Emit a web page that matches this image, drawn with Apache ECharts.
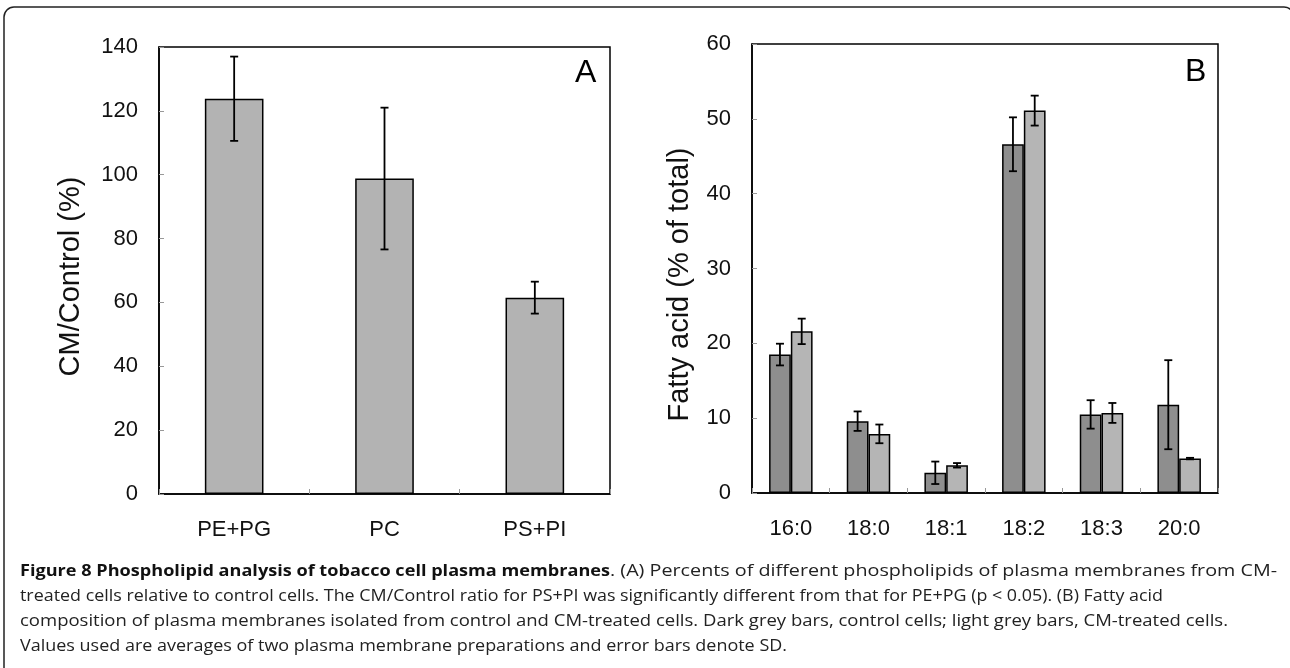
<!DOCTYPE html>
<html>
<head>
<meta charset="utf-8">
<script src="https://cdn.jsdelivr.net/npm/echarts@6/dist/echarts.min.js"></script>
<style>
html,body{margin:0;padding:0;background:#fff;}
#chart{width:1290px;height:668px;}
</style>
</head>
<body>
<div id="chart"></div>
<script>
// ---- Data ----
const categoriesA = ['PE+PG', 'PC', 'PS+PI'];
const valuesA = [123.8, 98.8, 61.5];
const sdA = [13.2, 22.2, 5.0];

const categoriesB = ['16:0', '18:0', '18:1', '18:2', '18:3', '20:0'];
const controlB = [18.5, 9.6, 2.7, 46.6, 10.5, 11.8];
const cmB = [21.6, 7.9, 3.7, 51.1, 10.7, 4.6];
const sdControlB = [1.45, 1.3, 1.5, 3.6, 1.9, 5.95];
const sdCmB = [1.7, 1.25, 0.3, 2.0, 1.33, 0.1];

const yTicksA = [0, 20, 40, 60, 80, 100, 120, 140];
const yTicksB = [0, 10, 20, 30, 40, 50, 60];

const captionBold = 'Figure 8 Phospholipid analysis of tobacco cell plasma membranes';
const captionLines = [
  '. (A) Percents of different phospholipids of plasma membranes from CM-',
  'treated cells relative to control cells. The CM/Control ratio for PS+PI was significantly different from that for PE+PG (p < 0.05). (B) Fatty acid',
  'composition of plasma membranes isolated from control and CM-treated cells. Dark grey bars, control cells; light grey bars, CM-treated cells.',
  'Values used are averages of two plasma membrane preparations and error bars denote SD.'
];

// ---- Styles ----
const sans = "'Liberation Sans',Arial,Helvetica,sans-serif";
const capFontSize = 16.3;
const capRegFont = capFontSize + "px 'Open Sans',sans-serif";
const capBoldFont = "bold " + capFontSize + "px 'Open Sans',sans-serif";

const measureCtx = document.createElement('canvas').getContext('2d');
function textWidth(txt, font) { measureCtx.font = font; return measureCtx.measureText(txt).width; }

function errData(values, sd, offset) {
  return values.map((v, i) => [i, v - sd[i], v + sd[i], offset]);
}

function errRender(params, api) {
  const i = api.value(0);
  const lo = api.coord([i, api.value(1)]);
  const hi = api.coord([i, api.value(2)]);
  const band = api.size([1, 0])[0];
  const x = lo[0] + band * api.value(3);
  const cap = 4;
  const style = { stroke: '#000', lineWidth: 1.8 };
  return {
    type: 'group',
    children: [
      { type: 'line', shape: { x1: x, y1: lo[1], x2: x, y2: hi[1] }, style },
      { type: 'line', shape: { x1: x - cap, y1: lo[1], x2: x + cap, y2: lo[1] }, style },
      { type: 'line', shape: { x1: x - cap, y1: hi[1], x2: x + cap, y2: hi[1] }, style }
    ]
  };
}

function yAxisCfg(gridIndex, max, interval, name, nameGap, shift) {
  return {
    type: 'value', gridIndex, min: 0, max, interval,
    name, nameLocation: 'middle', nameGap, nameRotate: 90,
    nameTextStyle: { fontFamily: sans, fontSize: 29, color: '#111', padding: [0, shift * 2, 0, 0] },
    axisLine: { show: true, lineStyle: { color: '#000', width: 1.5 } },
    axisTick: { show: true, inside: true, length: 5, lineStyle: { color: '#999', width: 1 } },
    axisLabel: { fontFamily: sans, fontSize: 22, color: '#111', margin: 21 },
    splitLine: { show: false }
  };
}

function xAxisCfg(gridIndex, data) {
  return {
    type: 'category', gridIndex, data,
    axisLine: { show: true, lineStyle: { color: '#000', width: 1.5 } },
    axisTick: { show: true, inside: true, length: 5, lineStyle: { color: '#999', width: 1 } },
    axisLabel: { fontFamily: sans, fontSize: 22, color: '#111', margin: 25 },
    splitLine: { show: false }
  };
}

const chart = echarts.init(document.getElementById('chart'), null, { renderer: 'canvas' });

const graphics = [
  { type: 'rect', shape: { x: 4, y: 7, width: 1290, height: 700, r: 10 },
    style: { fill: 'none', stroke: '#222', lineWidth: 1.5 }, z: 0 },
  { type: 'text', left: 575, top: 57, style: { text: 'A', font: "32px 'Liberation Sans',Arial,sans-serif", fill: '#000' } },
  { type: 'text', left: 1185, top: 56, style: { text: 'B', font: "32px 'Liberation Sans',Arial,sans-serif", fill: '#000' } }
];

// caption: each segment stretched to the span it occupies in the figure
const capTop = 563;
const capStep = 25;
const capX0 = 20;
const boldEnd = 610;
const lineEnds = [1277, 1163, 1228, 787];
function capText(txt, font, x, y, x1, fill) {
  const w = textWidth(txt, font);
  graphics.push({
    type: 'text', x: x, y: y, scaleX: (x1 - x) / w, originX: 0,
    style: { text: txt, font: font, fill: fill, textVerticalAlign: 'top' }
  });
}
capText(captionBold, capBoldFont, capX0, capTop, boldEnd, '#111');
captionLines.forEach((txt, k) => {
  const x = k === 0 ? boldEnd : capX0;
  capText(txt, capRegFont, x, capTop + k * capStep, lineEnds[k], '#222');
});

chart.setOption({
  animation: false,
  backgroundColor: '#fff',
  grid: [
    { left: 159, top: 47, width: 451, height: 447, show: true, borderColor: '#000', borderWidth: 1.5, backgroundColor: 'transparent' },
    { left: 752, top: 44, width: 466, height: 449, show: true, borderColor: '#000', borderWidth: 1.5, backgroundColor: 'transparent' }
  ],
  xAxis: [xAxisCfg(0, categoriesA), xAxisCfg(1, categoriesB)],
  yAxis: [
    yAxisCfg(0, yTicksA[yTicksA.length - 1], yTicksA[1] - yTicksA[0], 'CM/Control (%)', 74, 6),
    yAxisCfg(1, yTicksB[yTicksB.length - 1], yTicksB[1] - yTicksB[0], 'Fatty acid (% of total)', 58, 16)
  ],
  series: [
    { type: 'bar', xAxisIndex: 0, yAxisIndex: 0, data: valuesA, barWidth: '39%',
      itemStyle: { color: '#b3b3b3', borderColor: '#000', borderWidth: 1.5 } },
    { type: 'custom', xAxisIndex: 0, yAxisIndex: 0, data: errData(valuesA, sdA, 0), renderItem: errRender, z: 5 },
    { type: 'bar', xAxisIndex: 1, yAxisIndex: 1, data: controlB, barWidth: '28%', barGap: '0%',
      itemStyle: { color: '#8e8e8e', borderColor: '#000', borderWidth: 1.5 } },
    { type: 'bar', xAxisIndex: 1, yAxisIndex: 1, data: cmB, barWidth: '28%', barGap: '0%',
      itemStyle: { color: '#b5b5b5', borderColor: '#000', borderWidth: 1.5 } },
    { type: 'custom', xAxisIndex: 1, yAxisIndex: 1, data: errData(controlB, sdControlB, -0.14), renderItem: errRender, z: 5 },
    { type: 'custom', xAxisIndex: 1, yAxisIndex: 1, data: errData(cmB, sdCmB, 0.14), renderItem: errRender, z: 5 }
  ],
  graphic: graphics
});
</script>
</body>
</html>
